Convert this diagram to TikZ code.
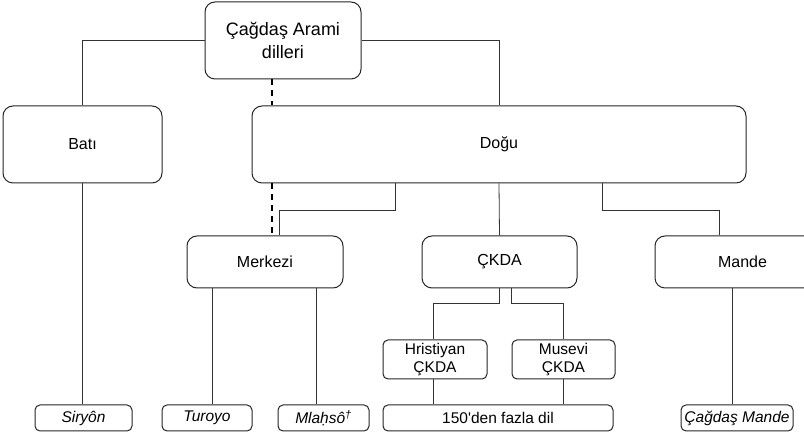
\documentclass[tikz,border=0pt]{standalone}
\usepackage{fontspec}
\setmainfont{Liberation Sans}
\begin{document}
\begin{tikzpicture}[x=1pt,y=-1pt,
  bigbox/.style={draw=black!85,line width=1pt,rounded corners=10pt,fill=white,align=center,inner sep=0pt,font=\fontsize{16}{18}\selectfont},
  smallbox/.style={draw=black!85,line width=1pt,rounded corners=5pt,fill=white,align=center,inner sep=0pt,font=\fontsize{15.5}{18}\selectfont},
  leafbox/.style={smallbox,minimum height=26pt},
  conn/.style={draw=black!80,line width=0.8pt},
  dashconn/.style={draw=black,line width=2pt,dash pattern=on 6pt off 5pt}]
\useasboundingbox (0,0) rectangle (804,435);
\clip (0,0) rectangle (804,435);
% nodes
\node[bigbox,minimum width=156pt,minimum height=77pt,font=\fontsize{18}{23}\selectfont] (top) at (283,40.5) {Çağdaş Arami\\dilleri};
\node[bigbox,minimum width=159pt,minimum height=77pt] (bati) at (82.5,144.5) {Batı};
\node[bigbox,minimum width=494pt,minimum height=77pt] (dogu) at (499,144.5) {Doğu};
\node[bigbox,minimum width=156pt,minimum height=52pt] (merkezi) at (265,262) {Merkezi};
\node[bigbox,minimum width=155pt,minimum height=52pt] (ckda) at (499.5,262) {ÇKDA};
\node[bigbox,minimum width=175pt,minimum height=52pt] (mande) at (742.5,262) {Mande};
\node[smallbox,minimum width=104pt,minimum height=39pt] (hris) at (435,359.5) {Hristiyan\\ÇKDA};
\node[smallbox,minimum width=103pt,minimum height=39pt] (musevi) at (563.5,359.5) {Musevi\\ÇKDA};
\node[leafbox,minimum width=230pt] (fazla) at (498,418) {150\XeTeXglyph\XeTeXglyphindex "quotesingle"\relax den fazla dil};
\node[leafbox,minimum width=97pt] (siryon) at (83.5,418) {\itshape Siryôn};
\node[leafbox,minimum width=90pt] (turoyo) at (207,418) {\itshape Turoyo};
\node[leafbox,minimum width=91pt] (mlahso) at (323.5,418) {\itshape Mlaḥsô\textsuperscript{†}};
\node[leafbox,minimum width=112pt] (cmande) at (737,418) {\itshape Çağdaş Mande};
% connectors
\draw[conn] (top.west) -| (bati.north);
\draw[conn] (top.east) -| (dogu.north);
\draw[dashconn] ([xshift=-11pt]top.south) -- ([xshift=-227pt]dogu.north);
\draw[dashconn] ([xshift=-227pt]dogu.south) -- ([xshift=7pt]merkezi.north);
\draw[conn] ([xshift=-104pt]dogu.south) -- ++(0,26.5) -| ([xshift=14pt]merkezi.north);
\draw[conn] (dogu.south) -- (ckda.north);
\draw[conn] ([xshift=103pt]dogu.south) -- ++(0,26.5) -| ([xshift=-23.5pt]mande.north);
\draw[conn] (bati.south) -- ([xshift=-1pt]siryon.north);
\draw[conn] ([xshift=-53pt]merkezi.south) -- ([xshift=5pt]turoyo.north);
\draw[conn] ([xshift=51pt]merkezi.south) -- ([xshift=-7.5pt]mlahso.north);
\draw[conn] ([xshift=-0.5pt]ckda.south) -- ++(0,15) -| ([xshift=-2pt]hris.north);
\draw[conn] ([xshift=11.5pt]ckda.south) -- ++(0,15) -| (musevi.north);
\draw[conn] ([xshift=-2pt]hris.south) -- ([xshift=-65pt]fazla.north);
\draw[conn] (musevi.south) -- ([xshift=65.5pt]fazla.north);
\draw[conn] ([xshift=-10.5pt]mande.south) -- ([xshift=-5pt]cmande.north);
\end{tikzpicture}
\end{document}
